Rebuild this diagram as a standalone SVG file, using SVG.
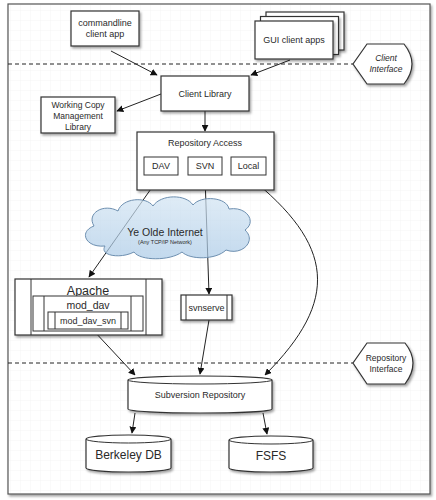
<svg xmlns="http://www.w3.org/2000/svg" width="436" height="500" viewBox="0 0 436 500">
<style>
text{font-family:"Liberation Sans",Arial,sans-serif;fill:#2a2a2a;text-anchor:middle}
.box{fill:#fff;stroke:#333;stroke-width:1.2}
.in{fill:#fff;stroke:#333;stroke-width:1}
.bar{stroke:#333;stroke-width:1;fill:none}
.con{fill:none;stroke:#222;stroke-width:1}
.dash{fill:none;stroke:#222;stroke-width:1;stroke-dasharray:4,3}
.s9{font-size:9px}
.s8{font-size:8.5px}
</style>
<defs>
<pattern id="grid" width="10" height="10" patternUnits="userSpaceOnUse">
<path d="M10,0 L0,0 0,10" fill="none" stroke="#efefef" stroke-width="0.6"/>
</pattern>
<filter id="sh" x="-10%" y="-10%" width="130%" height="140%">
<feDropShadow dx="1.5" dy="2" stdDeviation="1.2" flood-color="#000" flood-opacity="0.35"/>
</filter>
<linearGradient id="cl" x1="0" y1="0" x2="0" y2="1">
<stop offset="0" stop-color="#d2e4f3"/>
<stop offset="1" stop-color="#a9c9e6"/>
</linearGradient>
<marker id="ah" viewBox="0 0 10 10" refX="9" refY="5" markerWidth="7" markerHeight="7" orient="auto" markerUnits="userSpaceOnUse">
<path d="M0,0 L10,5 L0,10 Z" fill="#111"/>
</marker>
</defs>
<rect width="436" height="500" fill="#fff"/>
<g id="frame">
<rect x="8" y="4" width="422" height="490" fill="#fff" stroke="#555" stroke-width="1.2" filter="url(#sh)"/>
<rect x="9" y="5" width="420" height="488" fill="url(#grid)"/>
<line class="dash" x1="8" y1="64" x2="353" y2="64"/>
<line class="dash" x1="8" y1="363" x2="353" y2="363"/>
</g>
<g id="connectors">
<line class="con" x1="111" y1="51" x2="157" y2="75" marker-end="url(#ah)"/>
<line class="con" x1="290" y1="60" x2="251" y2="75" marker-end="url(#ah)"/>
<line class="con" x1="161" y1="94" x2="117" y2="111" marker-end="url(#ah)"/>
<line class="con" x1="205" y1="111" x2="205" y2="131" marker-end="url(#ah)"/>
<line class="con" x1="160" y1="176" x2="89" y2="277" marker-end="url(#ah)"/>
<line class="con" x1="205" y1="176" x2="209" y2="294" marker-end="url(#ah)"/>
<path class="con" d="M248,176 C335,245 340,300 265,375" marker-end="url(#ah)"/>
<line class="con" x1="93" y1="330" x2="135" y2="375" marker-end="url(#ah)"/>
<line class="con" x1="209" y1="320" x2="200" y2="374" marker-end="url(#ah)"/>
<line class="con" x1="135" y1="413" x2="132" y2="433" marker-end="url(#ah)"/>
<line class="con" x1="263" y1="413" x2="267" y2="434" marker-end="url(#ah)"/>
</g>
<g id="cloud">
<path d="M105,246 C86,248 78,232 94,226 C86,213 104,203 118,211 C122,198 146,196 153,206 C161,194 186,194 193,205 C201,195 227,197 229,209 C247,206 257,222 245,230 C257,241 242,256 226,250 C216,260 190,260 182,252 C170,261 140,261 134,252 C121,259 99,256 105,246 Z" fill="url(#cl)" fill-opacity="0.7" stroke="#6d8fb0" stroke-width="1"/>
<text x="165" y="236" style="font-size:10.5px">Ye Olde Internet</text>
<text x="165" y="244" style="font-size:5.5px">(Any TCP/IP Network)</text>
</g>
<g id="commandline">
<rect class="box" x="71" y="11" width="68" height="35" filter="url(#sh)"/>
<text class="s9" x="105" y="26">commandline</text>
<text class="s9" x="105" y="37">client app</text>
</g>
<g id="gui">
<rect class="box" x="266" y="12" width="78" height="38" filter="url(#sh)"/>
<rect class="box" x="260.5" y="16.5" width="78" height="38" filter="url(#sh)"/>
<rect class="box" x="255" y="21" width="78" height="38" filter="url(#sh)"/>
<text class="s9" x="294" y="43">GUI client apps</text>
</g>
<g id="client-interface">
<path class="box" d="M367,44 H404 Q420,64 404,84 H367 L353,64 Z" filter="url(#sh)"/>
<text class="s8" x="386" y="61" font-style="italic">Client</text>
<text class="s8" x="386" y="72" font-style="italic">Interface</text>
</g>
<g id="client-library">
<rect class="box" x="161" y="76" width="88" height="35" filter="url(#sh)"/>
<text class="s9" x="205" y="97">Client Library</text>
</g>
<g id="working-copy">
<rect class="box" x="41" y="97" width="74" height="36" filter="url(#sh)"/>
<text class="s8" x="78" y="108">Working Copy</text>
<text class="s8" x="78" y="119">Management</text>
<text class="s8" x="78" y="130">Library</text>
</g>
<g id="repository-access">
<rect class="box" x="137" y="132" width="137" height="58" filter="url(#sh)"/>
<text class="s9" x="205" y="146">Repository Access</text>
<rect class="in" x="144" y="157" width="34" height="18"/>
<text class="s9" x="161" y="169">DAV</text>
<rect class="in" x="188" y="157" width="34" height="18"/>
<text class="s9" x="205" y="169">SVN</text>
<rect class="in" x="231" y="157" width="35" height="18"/>
<text class="s9" x="248.5" y="169">Local</text>
</g>
<g id="apache">
<rect class="box" x="15" y="279" width="147" height="56" filter="url(#sh)"/>
<line class="bar" x1="31" y1="279" x2="31" y2="335"/>
<line class="bar" x1="146" y1="279" x2="146" y2="335"/>
<text x="88" y="295" style="font-size:12.5px">Apache</text>
<rect class="in" x="33" y="296" width="110" height="35"/>
<line class="bar" x1="44" y1="296" x2="44" y2="331"/>
<line class="bar" x1="131" y1="296" x2="131" y2="331"/>
<text x="88" y="309" style="font-size:10.5px">mod_dav</text>
<rect class="in" x="48" y="312" width="80" height="17"/>
<line class="bar" x1="55" y1="312" x2="55" y2="329"/>
<line class="bar" x1="121" y1="312" x2="121" y2="329"/>
<text x="88" y="324" style="font-size:9px">mod_dav_svn</text>
</g>
<g id="svnserve">
<rect class="box" x="181" y="295" width="51" height="25" filter="url(#sh)"/>
<line class="bar" x1="186" y1="295" x2="186" y2="320"/>
<line class="bar" x1="227" y1="295" x2="227" y2="320"/>
<text class="s9" x="206.5" y="311">svnserve</text>
</g>
<g id="repository-interface">
<path class="box" d="M367,343 H405 Q421,363 405,384 H367 L353,363 Z" filter="url(#sh)"/>
<text class="s8" x="386" y="361">Repository</text>
<text class="s8" x="386" y="372">Interface</text>
</g>
<g id="subversion-repository">
<path class="box" d="M128,380 A72,4 0 0,1 272,380 L272,409 A72,4 0 0,1 128,409 Z" filter="url(#sh)"/>
<path class="bar" d="M128,380 A72,4 0 0,0 272,380"/>
<text class="s9" x="200" y="398">Subversion Repository</text>
</g>
<g id="berkeley-db">
<path class="box" d="M86,439 A42.5,4 0 0,1 171,439 L171,468 A42.5,4 0 0,1 86,468 Z" filter="url(#sh)"/>
<path class="bar" d="M86,439 A42.5,4 0 0,0 171,439"/>
<text x="128.5" y="459" style="font-size:12px">Berkeley DB</text>
</g>
<g id="fsfs">
<path class="box" d="M229,440 A42,4 0 0,1 313,440 L313,468 A42,4 0 0,1 229,468 Z" filter="url(#sh)"/>
<path class="bar" d="M229,440 A42,4 0 0,0 313,440"/>
<text x="271" y="460" style="font-size:12px">FSFS</text>
</g>
</svg>
